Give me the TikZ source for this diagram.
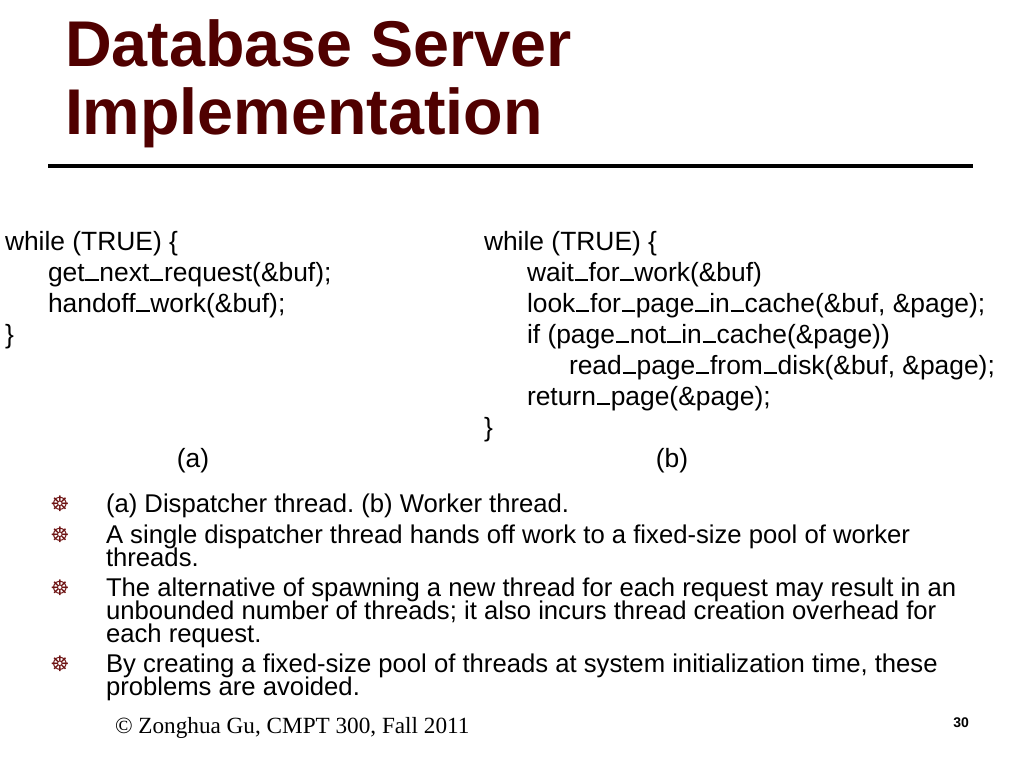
\documentclass[tikz,border=0pt]{standalone}
\usepackage{fontspec}
\setmainfont{Liberation Sans}
\newfontfamily\seriffont{Liberation Serif}
\newfontfamily\symfont{DejaVu Sans}
\definecolor{titlered}{RGB}{80,0,0}
\definecolor{bulletred}{RGB}{110,20,20}
\newcommand\usc{\kern0.03em\rule{0.5em}{0.065em}\kern0.03em}
\frenchspacing
\begin{document}
\begin{tikzpicture}[x=0.75pt,y=-0.75pt,
  every node/.style={inner sep=0pt,outer sep=0pt},
  titletext/.style={anchor=base west,font=\fontsize{48.5}{50}\selectfont\bfseries,text=titlered},
  codeline/.style={anchor=base west,font=\fontsize{19.8}{22}\selectfont},
  caplabel/.style={anchor=base,font=\fontsize{19.8}{22}\selectfont},
  bultext/.style={anchor=base west,font=\fontsize{19.25}{17.6}\selectfont},
  bulmark/.style={font=\symfont\fontsize{16}{16}\selectfont,text=bulletred},
]
\useasboundingbox[fill=white] (0,0) rectangle (1024,768);
% title
\node[titletext] (t1) at (65,66) {Database Server};
\node[titletext] (t2) at (65,134) {Implementation};
\coordinate (rl) at (48,166);
\coordinate (rr) at (973,166);
\draw[line width=3pt] (rl) -- (rr);
% code (a)
\node[codeline] (a1) at (5,250) {while (TRUE) \{};
\node[codeline] (a2) at (48,281) {get\usc next\usc request(\&buf);};
\node[codeline] (a3) at (48,312) {handoff\usc work(\&buf);};
\node[codeline] (a4) at (5,343) {\}};
\node[caplabel] (acap) at (193,467) {(a)};
% code (b)
\node[codeline] (b1) at (484,250) {while (TRUE) \{};
\node[codeline] (b2) at (527,281) {wait\usc for\usc work(\&buf)};
\node[codeline] (b3) at (527,312) {look\usc for\usc page\usc in\usc cache(\&buf, \&page);};
\node[codeline] (b4) at (527,343) {if (page\usc not\usc in\usc cache(\&page))};
\node[codeline] (b5) at (569,374) {read\usc page\usc from\usc disk(\&buf, \&page);};
\node[codeline] (b6) at (527,405) {return\usc page(\&page);};
\node[codeline] (b7) at (484,436) {\}};
\node[caplabel] (bcap) at (672,467) {(b)};
% bullets
\node[bulmark] (m1) at (60,504) {☸};
\node[bultext] (p1) at (106,512) {(a) Dispatcher thread. (b) Worker thread.};
\node[bulmark] (m2) at (60,535) {☸};
\node[bultext] (p2a) at (106,543) {A single dispatcher thread hands off work to a fixed-size pool of worker};
\node[bultext] (p2b) at (106,566) {threads.};
\node[bulmark] (m3) at (60,588) {☸};
\node[bultext] (p3a) at (106,596) {The alternative of spawning a new thread for each request may result in an};
\node[bultext] (p3b) at (106,619) {unbounded number of threads; it also incurs thread creation overhead for};
\node[bultext] (p3c) at (106,642) {each request.};
\node[bulmark] (m4) at (60,664) {☸};
\node[bultext] (p4a) at (106,672) {By creating a fixed-size pool of threads at system initialization time, these};
\node[bultext] (p4b) at (106,695) {problems are avoided.};
% footer
\node[anchor=base west,font=\seriffont\fontsize{17.4}{18}\selectfont] (foot) at (115,733) {© Zonghua Gu, CMPT 300, Fall 2011};
\node[anchor=base east,font=\fontsize{10.5}{11}\selectfont\bfseries] (pg) at (969,727) {30};
\end{tikzpicture}
\end{document}
